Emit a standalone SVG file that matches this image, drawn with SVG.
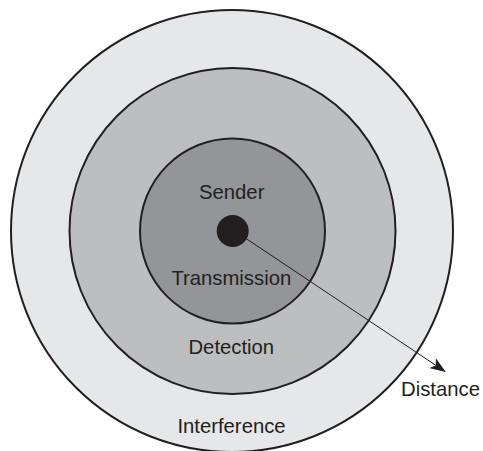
<svg xmlns="http://www.w3.org/2000/svg" width="483" height="451" viewBox="0 0 483 451">
<style>
.ring{stroke:#231f20;stroke-width:2}
.lbl{font-family:"Liberation Sans",Arial,sans-serif;font-size:20.3px;fill:#231f20;text-anchor:middle}
</style>
<defs>
<marker id="arr" viewBox="0 0 16 12" refX="15" refY="6" markerWidth="16" markerHeight="12" markerUnits="userSpaceOnUse" orient="auto">
<path d="M0,0 L16,6 L0,12 L4,6 Z" fill="#231f20"/>
</marker>
</defs>
<rect width="483" height="451" fill="#ffffff"/>
<g id="interference">
<circle class="ring" cx="232" cy="231" r="221" fill="#e6e7e8"/>
<text class="lbl" x="231.5" y="432.5">Interference</text>
</g>
<g id="detection">
<circle class="ring" cx="232.5" cy="231" r="163" fill="#bcbec0"/>
<text class="lbl" x="231.3" y="354">Detection</text>
</g>
<g id="transmission">
<circle class="ring" cx="232.5" cy="231" r="92.5" fill="#939598"/>
<text class="lbl" x="231.3" y="285">Transmission</text>
</g>
<g id="sender">
<circle cx="232.7" cy="231" r="16" fill="#231f20"/>
<text class="lbl" x="231.7" y="199">Sender</text>
</g>
<g id="connectors">
<line x1="246" y1="238.5" x2="445" y2="371.5" stroke="#231f20" stroke-width="1" marker-end="url(#arr)"/>
</g>
<g id="distance">
<text class="lbl" x="401" y="395.7" style="text-anchor:start">Distance</text>
</g>
</svg>
